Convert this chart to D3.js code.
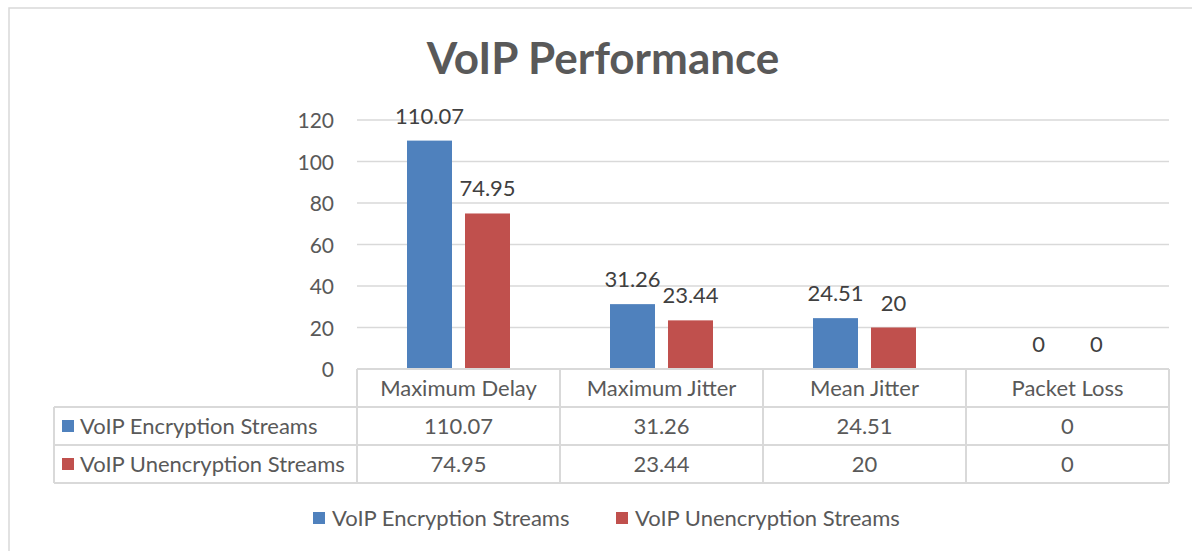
<!DOCTYPE html>
<html>
<head>
<meta charset="utf-8">
<script src="https://cdn.jsdelivr.net/npm/d3@7"></script>
<style>
  body { margin: 0; background: #fff; }
  svg text { font-family: Lato, "Open Sans", sans-serif; fill: #595959; }
</style>
</head>
<body>
<div id="chart"></div>
<script>
// chart data
const categories = ["Maximum Delay", "Maximum Jitter", "Mean Jitter", "Packet Loss"];
const seriesNames = ["VoIP Encryption Streams", "VoIP Unencryption Streams"];
const encryptionValues = [110.07, 31.26, 24.51, 0];
const unencryptionValues = [74.95, 23.44, 20, 0];
const yTicks = [0, 20, 40, 60, 80, 100, 120];
const colors = ["#4f81bd", "#c0504d"];

const seriesValues = [encryptionValues, unencryptionValues];

const width = 1192, height = 551;
const plot = {left: 357, right: 1169, top: 120, bottom: 369};
const tableLeft = 54;
const rowH = 38;
const fs = "22px";

const svg = d3.select("#chart").append("svg")
    .attr("width", width)
    .attr("height", height);

// outer frame (runs off right / bottom edge like the screenshot)
svg.append("rect")
    .attr("x", 9).attr("y", 8)
    .attr("width", 1200).attr("height", 560)
    .attr("fill", "none")
    .attr("stroke", "#d9d9d9")
    .attr("stroke-width", 1.5);

// title
svg.append("text")
    .attr("x", 603).attr("y", 74)
    .attr("text-anchor", "middle")
    .style("font-size", "44px")
    .style("font-weight", "bold")
    .text("VoIP Performance");

// scales
const x = d3.scaleBand()
    .domain(categories)
    .range([plot.left, plot.right]);

const xSub = d3.scaleBand()
    .domain(seriesNames)
    .range([-51.5, 51.5])
    .paddingInner(13 / 58);

const y = d3.scaleLinear()
    .domain([0, 120])
    .range([plot.bottom, plot.top]);

// gridlines
svg.append("g")
    .selectAll("line")
    .data(yTicks)
    .join("line")
    .attr("x1", plot.left).attr("x2", plot.right)
    .attr("y1", d => y(d)).attr("y2", d => y(d))
    .attr("stroke", "#d9d9d9")
    .attr("stroke-width", 1.5);

// y axis labels
const yAxis = d3.axisLeft(y).tickValues(yTicks).tickSize(0).tickPadding(0);
const yG = svg.append("g")
    .attr("transform", `translate(334,0)`)
    .call(yAxis);
yG.select(".domain").remove();
yG.selectAll("text")
    .attr("dy", "0.36em")
    .style("font-size", "21px")
    .style("font-family", "Lato, sans-serif")
    .style("fill", "#595959");

// bars
const groups = svg.append("g")
    .selectAll("g")
    .data(categories)
    .join("g")
    .attr("transform", d => `translate(${x(d) + x.bandwidth() / 2},0)`);

groups.selectAll("rect")
    .data((d, i) => seriesNames.map((s, j) => ({s: s, j: j, v: seriesValues[j][i]})))
    .join("rect")
    .attr("x", d => xSub(d.s))
    .attr("width", xSub.bandwidth())
    .attr("y", d => y(d.v))
    .attr("height", d => y(0) - y(d.v))
    .attr("fill", d => colors[d.j]);

// data labels
groups.selectAll("text.lbl")
    .data((d, i) => seriesNames.map((s, j) => ({s: s, j: j, v: seriesValues[j][i]})))
    .join("text")
    .attr("class", "lbl")
    .attr("x", d => xSub(d.s) + xSub.bandwidth() / 2)
    .attr("y", d => y(d.v) - 17)
    .attr("text-anchor", "middle")
    .style("font-size", fs)
    .style("fill", "#404040")
    .text(d => d.v);

// data table
const table = svg.append("g");
const lineColor = "#d9d9d9";
const tableBottom = plot.bottom + rowH * 3;

// horizontal lines
table.append("line")
    .attr("x1", plot.left).attr("x2", plot.right)
    .attr("y1", plot.bottom).attr("y2", plot.bottom)
    .attr("stroke", lineColor).attr("stroke-width", 2);
[1, 2, 3].forEach(r => {
    table.append("line")
        .attr("x1", tableLeft).attr("x2", plot.right)
        .attr("y1", plot.bottom + rowH * r).attr("y2", plot.bottom + rowH * r)
        .attr("stroke", lineColor).attr("stroke-width", 2);
});

// vertical lines
table.append("line")
    .attr("x1", tableLeft).attr("x2", tableLeft)
    .attr("y1", plot.bottom + rowH).attr("y2", tableBottom)
    .attr("stroke", lineColor).attr("stroke-width", 2);
table.selectAll("line.col")
    .data(categories.map(c => x(c)).concat([plot.right]))
    .join("line")
    .attr("class", "col")
    .attr("x1", d => d).attr("x2", d => d)
    .attr("y1", plot.bottom).attr("y2", tableBottom)
    .attr("stroke", lineColor).attr("stroke-width", 2);

// header row
table.selectAll("text.hdr")
    .data(categories)
    .join("text")
    .attr("class", "hdr")
    .attr("x", d => x(d) + x.bandwidth() / 2)
    .attr("y", plot.bottom + rowH / 2)
    .attr("dy", "0.36em")
    .attr("text-anchor", "middle")
    .style("font-size", fs)
    .text(d => d);

// series rows
seriesNames.forEach((s, j) => {
    const rowMid = plot.bottom + rowH * (j + 1) + rowH / 2;
    table.append("rect")
        .attr("x", 62).attr("y", rowMid - 6)
        .attr("width", 12).attr("height", 12)
        .attr("fill", colors[j]);
    table.append("text")
        .attr("x", 80).attr("y", rowMid)
        .attr("dy", "0.36em")
        .style("font-size", fs)
        .text(s);
    table.selectAll("text.v" + j)
        .data(categories)
        .join("text")
        .attr("class", "v" + j)
        .attr("x", d => x(d) + x.bandwidth() / 2)
        .attr("y", rowMid)
        .attr("dy", "0.36em")
        .attr("text-anchor", "middle")
        .style("font-size", fs)
        .text((d, i) => seriesValues[j][i]);
});

// legend
const legendX = [313, 616];
const legend = svg.append("g")
    .selectAll("g")
    .data(seriesNames)
    .join("g")
    .attr("transform", (d, i) => `translate(${legendX[i]},518)`);
legend.append("rect")
    .attr("x", 0).attr("y", -6)
    .attr("width", 12).attr("height", 12)
    .attr("fill", (d, i) => colors[i]);
legend.append("text")
    .attr("x", 19).attr("y", 0)
    .attr("dy", "0.36em")
    .style("font-size", fs)
    .text(d => d);
</script>
</body>
</html>
